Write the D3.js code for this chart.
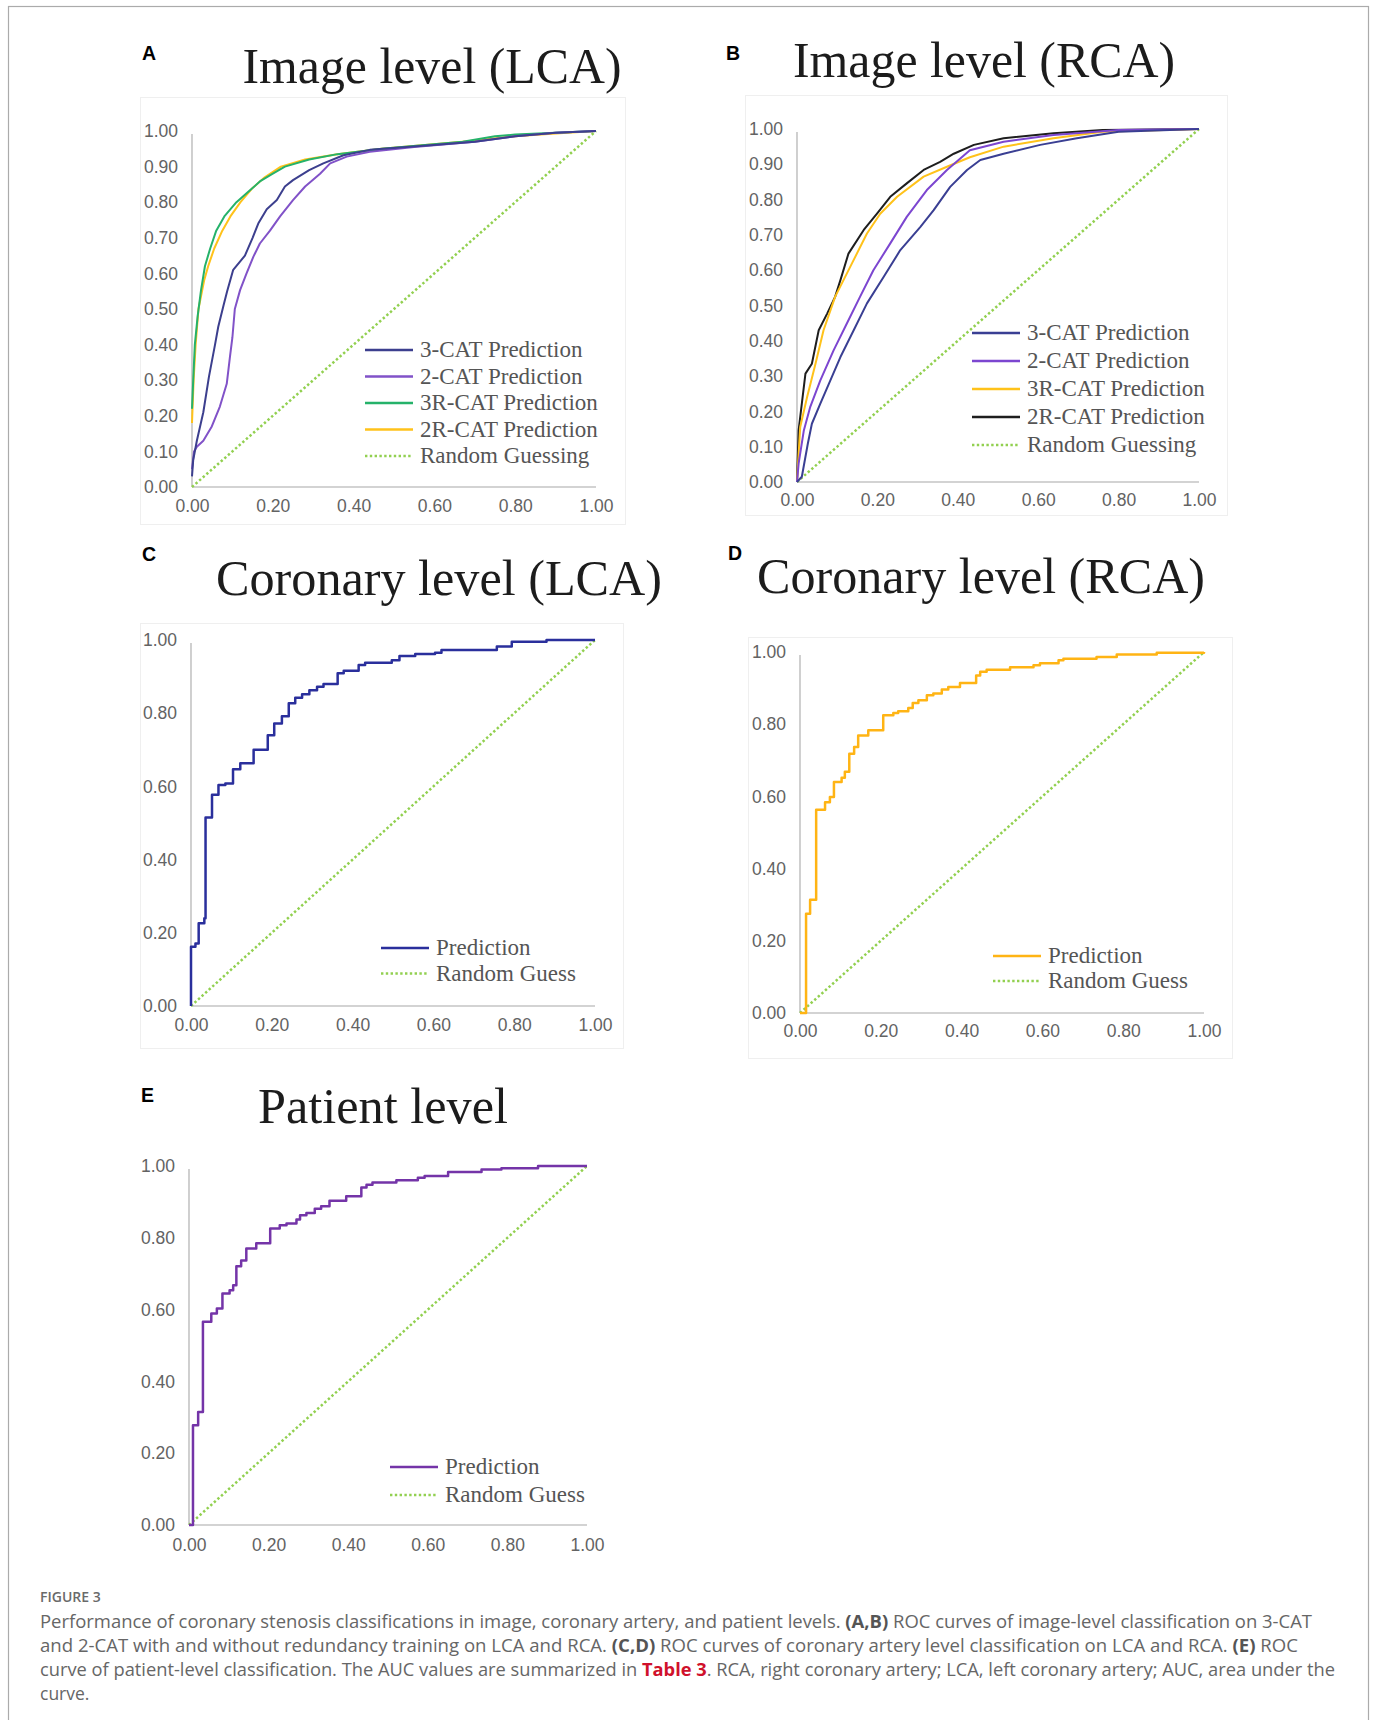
<!DOCTYPE html>
<html>
<head>
<meta charset="utf-8">
<script src="https://cdn.jsdelivr.net/npm/d3@7"></script>
<style>
  body { margin: 0; background: #fff; }
  svg { display: block; }
</style>
</head>
<body>
<div id="chart"></div>
<script>
// tick values
var xTicks = [0, 0.2, 0.4, 0.6, 0.8, 1.0];
var yTicksFine = [0, 0.1, 0.2, 0.3, 0.4, 0.5, 0.6, 0.7, 0.8, 0.9, 1.0];
var yTicksCoarse = [0, 0.2, 0.4, 0.6, 0.8, 1.0];

// ROC points, [false positive rate, true positive rate]
var randomGuess = [[0, 0], [1, 1]];

// A - image level LCA
var lcaImg3Cat = [[0,0.03],[0.003,0.076],[0.012,0.13],[0.028,0.21],[0.042,0.31],[0.057,0.40],[0.065,0.45],[0.078,0.51],[0.087,0.55],[0.102,0.61],[0.131,0.65],[0.15,0.70],[0.164,0.74],[0.185,0.78],[0.21,0.806],[0.23,0.844],[0.25,0.862],[0.29,0.89],[0.325,0.909],[0.375,0.932],[0.44,0.947],[0.59,0.96],[0.7,0.97],[0.8,0.985],[0.9,0.995],[1,1]];
var lcaImg2Cat = [[0,0.05],[0.005,0.10],[0.012,0.113],[0.028,0.13],[0.049,0.17],[0.069,0.226],[0.086,0.29],[0.094,0.366],[0.10,0.42],[0.106,0.50],[0.119,0.553],[0.135,0.60],[0.152,0.647],[0.168,0.684],[0.193,0.72],[0.218,0.76],[0.25,0.806],[0.28,0.844],[0.317,0.88],[0.342,0.909],[0.383,0.928],[0.44,0.942],[0.55,0.955],[0.7,0.97],[0.8,0.985],[0.9,0.995],[1,1]];
var lcaImg3RCat = [[0,0.22],[0.003,0.30],[0.007,0.40],[0.014,0.48],[0.022,0.55],[0.032,0.62],[0.045,0.67],[0.06,0.72],[0.08,0.76],[0.11,0.80],[0.14,0.83],[0.17,0.86],[0.2,0.88],[0.23,0.90],[0.29,0.92],[0.36,0.935],[0.47,0.95],[0.57,0.96],[0.67,0.97],[0.75,0.985],[0.8,0.99],[0.9,0.995],[1,1]];
var lcaImg2RCat = [[0,0.18],[0.004,0.30],[0.009,0.40],[0.016,0.50],[0.03,0.58],[0.04,0.62],[0.055,0.67],[0.075,0.72],[0.095,0.76],[0.12,0.80],[0.15,0.84],[0.18,0.87],[0.22,0.90],[0.28,0.92],[0.36,0.935],[0.47,0.95],[0.57,0.96],[0.67,0.97],[0.8,0.985],[0.9,0.993],[1,1]];

// B - image level RCA
var rcaImg3Cat = [[0,0],[0.012,0.015],[0.027,0.109],[0.037,0.165],[0.058,0.222],[0.083,0.288],[0.108,0.354],[0.141,0.43],[0.174,0.506],[0.215,0.58],[0.257,0.657],[0.307,0.723],[0.34,0.77],[0.381,0.836],[0.423,0.884],[0.456,0.912],[0.514,0.93],[0.605,0.955],[0.696,0.974],[0.80,0.992],[1,1]];
var rcaImg2Cat = [[0,0],[0.004,0.052],[0.017,0.146],[0.033,0.213],[0.058,0.288],[0.091,0.373],[0.124,0.449],[0.157,0.525],[0.19,0.60],[0.232,0.676],[0.273,0.751],[0.323,0.827],[0.373,0.884],[0.43,0.94],[0.514,0.964],[0.638,0.983],[0.80,0.997],[1,1]];
var rcaImg3RCat = [[0,0],[0.008,0.156],[0.025,0.24],[0.046,0.335],[0.066,0.43],[0.095,0.525],[0.137,0.62],[0.174,0.704],[0.207,0.76],[0.249,0.808],[0.315,0.865],[0.373,0.893],[0.43,0.92],[0.514,0.95],[0.638,0.974],[0.76,0.992],[1,1]];
var rcaImg2RCat = [[0,0],[0.004,0.146],[0.012,0.222],[0.021,0.307],[0.037,0.335],[0.054,0.43],[0.075,0.477],[0.095,0.525],[0.108,0.572],[0.128,0.647],[0.166,0.714],[0.199,0.76],[0.232,0.808],[0.273,0.846],[0.315,0.884],[0.356,0.907],[0.39,0.93],[0.44,0.955],[0.514,0.974],[0.638,0.988],[0.76,0.997],[1,1]];

// C - coronary level LCA
var lcaCoronary = [[0,0],[0,0.162],[0.011,0.171],[0.019,0.226],[0.033,0.24],[0.036,0.515],[0.052,0.577],[0.068,0.604],[0.085,0.608],[0.104,0.647],[0.122,0.663],[0.155,0.70],[0.19,0.74],[0.206,0.772],[0.225,0.792],[0.242,0.827],[0.258,0.842],[0.275,0.852],[0.293,0.863],[0.312,0.872],[0.328,0.88],[0.363,0.909],[0.378,0.916],[0.415,0.932],[0.431,0.938],[0.497,0.945],[0.516,0.956],[0.555,0.962],[0.604,0.965],[0.62,0.973],[0.757,0.982],[0.794,0.995],[0.88,1.0],[1,1]];

// D - coronary level RCA
var rcaCoronary = [[0,0],[0.015,0.021],[0.015,0.275],[0.025,0.314],[0.04,0.563],[0.062,0.584],[0.074,0.598],[0.084,0.64],[0.103,0.652],[0.111,0.668],[0.122,0.718],[0.134,0.737],[0.144,0.769],[0.169,0.783],[0.206,0.825],[0.231,0.831],[0.243,0.836],[0.268,0.845],[0.279,0.859],[0.293,0.866],[0.314,0.88],[0.33,0.885],[0.351,0.896],[0.367,0.903],[0.396,0.914],[0.436,0.935],[0.446,0.945],[0.462,0.951],[0.52,0.958],[0.578,0.963],[0.594,0.969],[0.64,0.977],[0.652,0.981],[0.734,0.986],[0.784,0.993],[0.883,0.998],[1,1]];

// E - patient level
var patientLevel = [[0,0],[0.01,0.019],[0.01,0.278],[0.023,0.315],[0.035,0.566],[0.056,0.589],[0.07,0.603],[0.084,0.645],[0.102,0.654],[0.111,0.668],[0.119,0.721],[0.131,0.737],[0.144,0.77],[0.169,0.785],[0.204,0.826],[0.228,0.835],[0.245,0.84],[0.27,0.851],[0.279,0.863],[0.295,0.869],[0.316,0.881],[0.332,0.888],[0.353,0.903],[0.395,0.916],[0.433,0.94],[0.446,0.948],[0.461,0.954],[0.521,0.96],[0.575,0.967],[0.592,0.972],[0.651,0.983],[0.735,0.99],[0.785,0.994],[0.877,1.0],[1,1]];

var captionLines = [
  [["Performance of coronary stenosis classifications in image, coronary artery, and patient levels. ", 0], ["(A,B)", 1], [" ROC curves of image-level classification on 3-CAT", 0]],
  [["and 2-CAT with and without redundancy training on LCA and RCA. ", 0], ["(C,D)", 1], [" ROC curves of coronary artery level classification on LCA and RCA. ", 0], ["(E)", 1], [" ROC", 0]],
  [["curve of patient-level classification. The AUC values are summarized in ", 0], ["Table 3", 2], [". RCA, right coronary artery; LCA, left coronary artery; AUC, area under the", 0]],
  [["curve.", 0]]
];
// widths the caption lines take in the figure
var captionWidths = [1272, 1258, 1295, null];

var GREEN_DOT = "#92d050";

var panels = [
  { letter: "A", lx: 142, ly: 60, title: "Image level (LCA)", tx: 432, ty: 83, tw: 379,
    box: [140, 97, 625, 524], x0: 192, x1: 596, yTop: 131, yBot: 487, yTicks: yTicksFine, xPad: 13,
    legX: 365, legY: 350, legStep: 26.5, step: false,
    series: [
      { name: "3-CAT Prediction", data: lcaImg3Cat, color: "#3c3f8e", w: 2 },
      { name: "2-CAT Prediction", data: lcaImg2Cat, color: "#8152c8", w: 2 },
      { name: "3R-CAT Prediction", data: lcaImg3RCat, color: "#25b26a", w: 2 },
      { name: "2R-CAT Prediction", data: lcaImg2RCat, color: "#ffc21a", w: 2 },
      { name: "Random Guessing", data: randomGuess, color: GREEN_DOT, w: 2.5, dotted: true }
    ] },
  { letter: "B", lx: 726, ly: 60, title: "Image level (RCA)", tx: 984, ty: 77, tw: 382,
    box: [745, 95, 1227, 515], x0: 797, x1: 1199, yTop: 129, yBot: 482, yTicks: yTicksFine, xPad: 12,
    legX: 972, legY: 333, legStep: 28, step: false,
    series: [
      { name: "3-CAT Prediction", data: rcaImg3Cat, color: "#3a3f93", w: 2 },
      { name: "2-CAT Prediction", data: rcaImg2Cat, color: "#7c46d0", w: 2 },
      { name: "3R-CAT Prediction", data: rcaImg3RCat, color: "#ffc21a", w: 2 },
      { name: "2R-CAT Prediction", data: rcaImg2RCat, color: "#1e1e1e", w: 2 },
      { name: "Random Guessing", data: randomGuess, color: GREEN_DOT, w: 2.5, dotted: true }
    ] },
  { letter: "C", lx: 142, ly: 561, title: "Coronary level (LCA)", tx: 439, ty: 595, tw: 446,
    box: [140, 623, 623, 1048], x0: 191, x1: 595, yTop: 640, yBot: 1006, yTicks: yTicksCoarse, xPad: 13,
    legX: 381, legY: 948, legStep: 25.5, step: true,
    series: [
      { name: "Prediction", data: lcaCoronary, color: "#2a2f9c", w: 2.5 },
      { name: "Random Guess", data: randomGuess, color: GREEN_DOT, w: 2.5, dotted: true }
    ] },
  { letter: "D", lx: 728, ly: 560, title: "Coronary level (RCA)", tx: 981, ty: 593, tw: 448,
    box: [748, 637, 1232, 1058], x0: 800, x1: 1204, yTop: 652, yBot: 1013, yTicks: yTicksCoarse, xPad: 12,
    legX: 993, legY: 956, legStep: 25, step: true,
    series: [
      { name: "Prediction", data: rcaCoronary, color: "#ffb414", w: 2.5 },
      { name: "Random Guess", data: randomGuess, color: GREEN_DOT, w: 2.5, dotted: true }
    ] },
  { letter: "E", lx: 141, ly: 1102, title: "Patient level", tx: 383, ty: 1123, tw: 250,
    box: null, x0: 189, x1: 587, yTop: 1166, yBot: 1525, yTicks: yTicksCoarse, xPad: 14,
    legX: 390, legY: 1467, legStep: 28, step: true,
    series: [
      { name: "Prediction", data: patientLevel, color: "#7434a8", w: 2.5 },
      { name: "Random Guess", data: randomGuess, color: GREEN_DOT, w: 2.5, dotted: true }
    ] }
];

var W = 1375, H = 1720;
var svg = d3.select("#chart").append("svg").attr("width", W).attr("height", H);
svg.append("rect").attr("width", W).attr("height", H).attr("fill", "#fff");

// outer frame
svg.append("rect")
  .attr("x", 8.5).attr("y", 6.5).attr("width", 1360).attr("height", 1730)
  .attr("fill", "none").attr("stroke", "#ababab").attr("stroke-width", 1.2);

panels.forEach(function(p) {
  var g = svg.append("g");

  if (p.box) {
    g.append("rect")
      .attr("x", p.box[0] + 0.5).attr("y", p.box[1] + 0.5)
      .attr("width", p.box[2] - p.box[0]).attr("height", p.box[3] - p.box[1])
      .attr("fill", "none").attr("stroke", "#efefef").attr("stroke-width", 1);
  }

  // panel letter
  g.append("text").attr("x", p.lx).attr("y", p.ly)
    .attr("font-family", "Liberation Sans, Arial, sans-serif").attr("font-weight", "bold")
    .attr("font-size", 19.5).attr("fill", "#000").text(p.letter);

  // title
  g.append("text").attr("x", p.tx).attr("y", p.ty).attr("text-anchor", "middle")
    .attr("font-family", "Liberation Serif, Times New Roman, serif")
    .attr("font-size", 50).attr("fill", "#1c1c1c")
    .attr("textLength", p.tw).attr("lengthAdjust", "spacingAndGlyphs")
    .text(p.title);

  var x = d3.scaleLinear().domain([0, 1]).range([p.x0, p.x1]);
  var y = d3.scaleLinear().domain([0, 1]).range([p.yBot, p.yTop]);

  // axis lines
  g.append("line").attr("x1", p.x0).attr("x2", p.x0).attr("y1", p.yTop + 3).attr("y2", p.yBot)
    .attr("stroke", "#c4c4c4").attr("stroke-width", 1.6);
  g.append("line").attr("x1", p.x0).attr("x2", p.x1).attr("y1", p.yBot).attr("y2", p.yBot)
    .attr("stroke", "#c4c4c4").attr("stroke-width", 1.6);

  var fmt = d3.format(".2f");
  var yAxis = g.append("g").attr("transform", "translate(" + p.x0 + ",0)")
    .call(d3.axisLeft(y).tickValues(p.yTicks).tickSize(0).tickPadding(14).tickFormat(fmt));
  var xAxis = g.append("g").attr("transform", "translate(0," + p.yBot + ")")
    .call(d3.axisBottom(x).tickValues(xTicks).tickSize(0).tickPadding(p.xPad).tickFormat(fmt));
  [yAxis, xAxis].forEach(function(a) {
    a.select(".domain").remove();
    a.selectAll("text")
      .attr("font-family", "Liberation Sans, Arial, sans-serif")
      .attr("font-size", 17.5).attr("fill", "#636363");
  });

  // curves
  var line = d3.line()
    .x(function(d) { return x(d[0]); })
    .y(function(d) { return y(d[1]); })
    .curve(p.step ? d3.curveStepAfter : d3.curveLinear);
  var straight = d3.line()
    .x(function(d) { return x(d[0]); })
    .y(function(d) { return y(d[1]); });

  var drawOrder = p.series.slice().reverse();
  drawOrder.forEach(function(s) {
    g.append("path").datum(s.data)
      .attr("d", s.dotted ? straight(s.data) : line(s.data))
      .attr("fill", "none").attr("stroke", s.color).attr("stroke-width", s.w)
      .attr("stroke-linejoin", "round")
      .attr("stroke-dasharray", s.dotted ? "2.4,2.4" : null);
  });

  // legend
  p.series.forEach(function(s, i) {
    var ly = p.legY + i * p.legStep;
    g.append("line").attr("x1", p.legX).attr("x2", p.legX + 48).attr("y1", ly).attr("y2", ly)
      .attr("stroke", s.color).attr("stroke-width", s.dotted ? 2.5 : 2.4)
      .attr("stroke-dasharray", s.dotted ? "2.4,2.4" : null);
    g.append("text").attr("x", p.legX + 55).attr("y", ly + 7)
      .attr("font-family", "Liberation Serif, Times New Roman, serif")
      .attr("font-size", 23).attr("fill", "#555").text(s.name);
  });
});

// caption
svg.append("text").attr("x", 40).attr("y", 1602)
  .attr("font-family", "Open Sans, sans-serif").attr("font-size", 14).attr("font-weight", 600)
  .attr("fill", "#6a6a6a").text("FIGURE 3");

var capBase = [1628, 1652, 1676, 1700];
captionLines.forEach(function(parts, i) {
  var t = svg.append("text").attr("x", 40).attr("y", capBase[i])
    .attr("font-family", "Open Sans, sans-serif").attr("font-size", 17.5).attr("fill", "#666");
  if (captionWidths[i]) t.attr("textLength", captionWidths[i]).attr("lengthAdjust", "spacingAndGlyphs");
  parts.forEach(function(pt) {
    var ts = t.append("tspan").text(pt[0]);
    if (pt[1] === 1) ts.attr("font-weight", 700).attr("fill", "#555");
    if (pt[1] === 2) ts.attr("font-weight", 700).attr("fill", "#d0112b");
  });
});
</script>
</body>
</html>
